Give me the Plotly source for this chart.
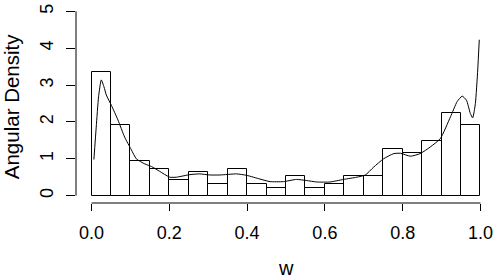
import plotly.graph_objects as go

# Histogram: bin edges (width 0.05) and densities
bin_left = [0.00, 0.05, 0.10, 0.15, 0.20, 0.25, 0.30, 0.35, 0.40, 0.45,
            0.50, 0.55, 0.60, 0.65, 0.70, 0.75, 0.80, 0.85, 0.90, 0.95]
density = [3.35, 1.93, 0.95, 0.73, 0.43, 0.645, 0.32, 0.73, 0.32, 0.21,
           0.535, 0.21, 0.32, 0.535, 0.535, 1.27, 1.165, 1.49, 2.245, 1.93]
bin_width = 0.05

# Smoothed angular density curve
curve_w = [0.006, 0.012, 0.018, 0.025, 0.032, 0.038, 0.051, 0.068, 0.085, 0.102,
           0.115, 0.137, 0.154, 0.175, 0.201, 0.218, 0.253, 0.278, 0.304, 0.33,
           0.373, 0.399, 0.433, 0.459, 0.493, 0.527, 0.553, 0.579, 0.613, 0.648,
           0.682, 0.704, 0.725, 0.751, 0.777, 0.794, 0.820, 0.845, 0.871, 0.897,
           0.923, 0.940, 0.953, 0.964, 0.974, 0.980, 0.987, 0.993, 0.997]
curve_d = [0.98, 1.86, 2.68, 3.14, 2.95, 2.73, 2.45, 2.05, 1.59, 1.25,
           1.0, 0.86, 0.79, 0.66, 0.5, 0.5, 0.57, 0.59, 0.56, 0.56,
           0.59, 0.55, 0.45, 0.38, 0.38, 0.44, 0.41, 0.37, 0.37, 0.44,
           0.5, 0.56, 0.77, 1.0, 1.14, 1.15, 1.07, 1.14, 1.32, 1.55,
           2.14, 2.55, 2.70, 2.59, 2.23, 2.11, 2.5, 3.41, 4.23]

x_ticks = [0.0, 0.2, 0.4, 0.6, 0.8, 1.0]
x_tick_text = ["0.0", "0.2", "0.4", "0.6", "0.8", "1.0"]
y_ticks = [0, 1, 2, 3, 4, 5]
y_tick_text = ["0", "1", "2", "3", "4", "5"]
x_label = "w"
y_label = "Angular Density"

FONT = "Liberation Sans, Arial, sans-serif"

W, H = 500, 280
ML, MR, MT, MB = 76, 4, 4, 77
PW, PH = W - ML - MR, H - MT - MB

centers = [b + bin_width / 2 for b in bin_left]

fig = go.Figure()
fig.add_trace(go.Bar(
    x=centers, y=density, width=bin_width,
    marker=dict(color="white", line=dict(color="black", width=1)),
    showlegend=False, hoverinfo="skip",
))
fig.add_trace(go.Scatter(
    x=curve_w, y=curve_d, mode="lines",
    line=dict(color="black", width=1, shape="spline", smoothing=0.5),
    showlegend=False, hoverinfo="skip",
))

# R-style axis lines spanning first to last tick
fig.add_shape(type="line", xref="x", yref="paper", x0=x_ticks[0], x1=x_ticks[-1],
              y0=0, y1=0, line=dict(color="black", width=1))
fig.add_shape(type="line", xref="paper", yref="y", x0=0, x1=0,
              y0=y_ticks[0], y1=y_ticks[-1], line=dict(color="black", width=1))

# axis titles as annotations (pixel-placed)
fig.add_annotation(text=x_label, xref="paper", yref="paper",
                   x=(286 - ML) / PW, y=(H - MB - 281) / PH,
                   xanchor="center", yanchor="bottom", showarrow=False,
                   font=dict(size=20, family=FONT, color="black"))
fig.add_annotation(text=y_label, xref="paper", yref="paper",
                   x=(11.5 - ML) / PW, y=(H - MB - 106.7) / PH,
                   xanchor="center", yanchor="middle", showarrow=False,
                   textangle=-90,
                   font=dict(size=20.5, family=FONT, color="black"))

fig.update_layout(
    width=W, height=H,
    margin=dict(l=ML, r=MR, t=MT, b=MB),
    plot_bgcolor="white", paper_bgcolor="white",
    bargap=0,
    font=dict(family=FONT, size=18, color="black"),
    xaxis=dict(
        range=[-0.04, 1.04], showgrid=False, zeroline=False, showline=False,
        tickmode="array", tickvals=x_ticks, ticktext=x_tick_text,
        ticks="outside", ticklen=7, tickwidth=1, tickcolor="black",
        ticklabelstandoff=6, automargin=False,
        tickfont=dict(size=18),
    ),
    yaxis=dict(
        range=[-0.2, 5.2], showgrid=False, zeroline=False, showline=False,
        tickmode="array", tickvals=y_ticks, ticktext=y_tick_text,
        ticks="outside", ticklen=9, tickwidth=1, tickcolor="black",
        tickangle=-90, ticklabelstandoff=6, automargin=False,
        tickfont=dict(size=18),
    ),
)

fig.write_html(
    "out.html",
    config={"displayModeBar": False},
    post_script="document.body.style.margin='0';document.body.style.overflow='hidden';",
)
